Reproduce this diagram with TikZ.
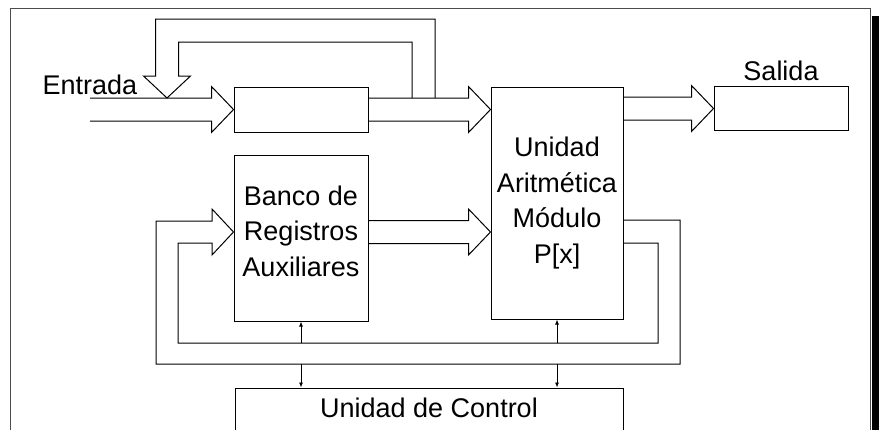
\documentclass[tikz,border=0pt]{standalone}
\usepackage{fontspec}
\setmainfont{Liberation Sans}
\usetikzlibrary{arrows.meta,calc,positioning}

% hollow bus arrow pointing right, tail x from #1, tip at #2
\newcommand{\busright}[2]{%
  \draw let \p1=(#1), \p2=(#2) in
    (\x1,\y2+11.5pt) -- (\x2-22pt,\y2+11.5pt) -- (\x2-22pt,\y2+23pt) -- (\p2)
    -- (\x2-22pt,\y2-23pt) -- (\x2-22pt,\y2-11.5pt) -- (\x1,\y2-11.5pt);}

\begin{document}
\begin{tikzpicture}[x=1pt,y=-1pt,line width=1pt,
    box/.style={draw, inner sep=0pt},
    txt/.style={font=\fontsize{27}{35.5}\selectfont, inner sep=0pt},
    sig/.style={line width=0.8pt, -{Latex[length=5pt,width=4pt]}}]
    \useasboundingbox (0,0) rectangle (883,429);
    \clip (0,0) rectangle (883,429);
    % marco con sombra
    \fill (872,16) rectangle (879,440);
    \draw[black!70] (10,440) |- (870,8) -- (870,440);
    % bloques
    \node[box, minimum width=134pt, minimum height=45pt] (reg) at (301,109.5) {};
    \node[box, txt, align=center, minimum width=132pt, minimum height=232pt] (ua) at (557,203) {Unidad\\Aritmética\\Módulo\\P[x]};
    \node[box, minimum width=134pt, minimum height=166pt] (banco) at (301,238) {};
    \node[txt, align=center] (bancotxt) at (301,231) {Banco de\\Registros\\Auxiliares};
    \node[box, minimum width=134pt, minimum height=44pt] (salida) at (781,108.5) {};
    \node[txt, above=5pt of salida] (salidatxt) {Salida};
    \node[box, txt, minimum width=388pt, text height=29pt, text depth=50pt, anchor=base] (control) at (429,417) {Unidad de Control};
    \node[txt, anchor=base west] (entrada) at (42,94) {Entrada};
    % buses
    \coordinate (inicio) at (90,109.5);
    \busright{inicio}{reg.west}
    \busright{reg.east}{ua.west |- reg.west}
    \busright{ua.east |- reg.west}{salida.west}
    \busright{banco.east}{ua.west |- 0,232}
    % realimentacion superior
    \draw (435,98) |- (155.5,19) -- (155.5,76) -- (143.5,76) -- (167,98) -- (190.5,76) -- (178.5,76) |- (412,42) -- (412,98);
    % realimentacion al banco
    \draw (ua.east |- 0,220) -| (680,364) -| (156,221) -- (212,221) -- (212,209) -- (banco.west |- 0,232)
        -- (212,255) -- (212,243) -| (178,343) -| (658,243) -- (ua.east |- 0,243);
    % control
    \draw[sig] (banco.south |- 0,343) -- (banco.south);
    \draw[sig] (ua.south |- 0,343) -- (ua.south);
    \draw[sig] (banco.south |- 0,364) -- (banco.south |- control.north);
    \draw[sig] (ua.south |- 0,364) -- (ua.south |- control.north);
\end{tikzpicture}
\end{document}
